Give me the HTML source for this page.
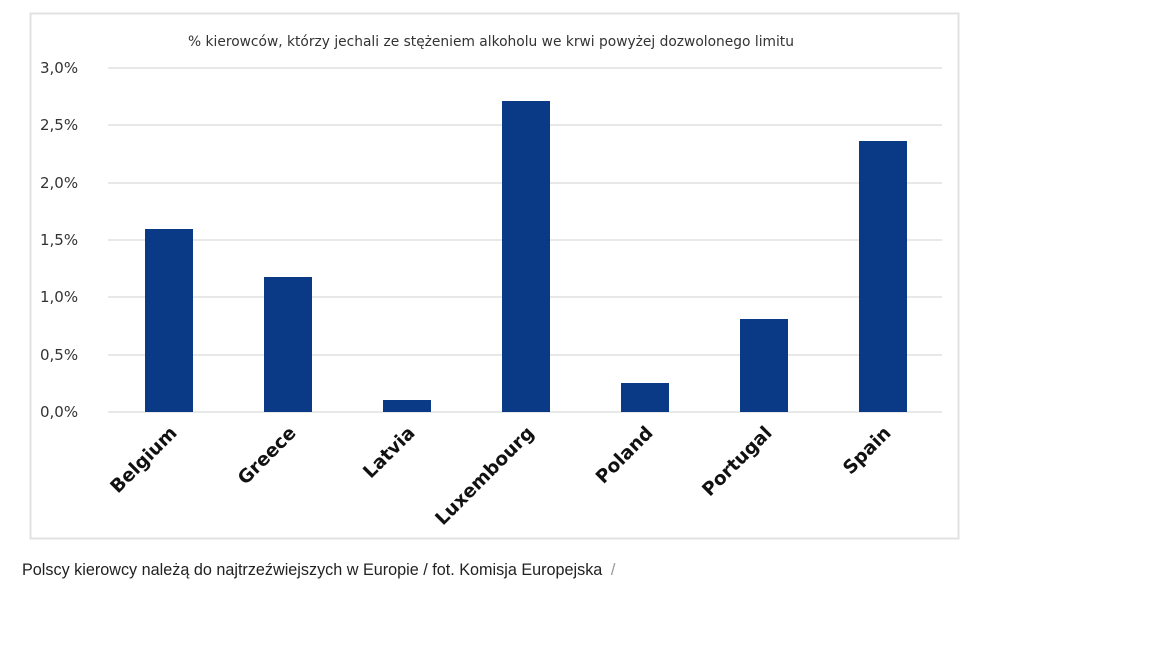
<!DOCTYPE html>
<html><head><meta charset="utf-8"><style>
body{margin:0;background:#fff;width:1152px;height:648px;overflow:hidden;font-family:"Liberation Sans",sans-serif}
</style></head><body>
<svg width="1152" height="648" xmlns="http://www.w3.org/2000/svg" style="position:absolute;left:0;top:0">
<rect x="30.5" y="13.5" width="928" height="525" fill="#fff" stroke="#e2e2e2" stroke-width="2"/>
<text x="491" y="46" font-size="13.8" fill="#333" text-anchor="middle" font-family="DejaVu Sans, sans-serif">% kierowców, którzy jechali ze stężeniem alkoholu we krwi powyżej dozwolonego limitu</text>
<g stroke="#e0e0e0" stroke-width="1.5">
<line x1="108" x2="942" y1="68" y2="68"/><line x1="108" x2="942" y1="125" y2="125"/>
<line x1="108" x2="942" y1="183" y2="183"/><line x1="108" x2="942" y1="240" y2="240"/>
<line x1="108" x2="942" y1="297" y2="297"/><line x1="108" x2="942" y1="355" y2="355"/>
<line x1="108" x2="942" y1="412" y2="412"/>
</g>
<g font-size="15" fill="#333" font-family="DejaVu Sans, sans-serif">
<text x="40" y="73">3,0%</text><text x="40" y="130">2,5%</text><text x="40" y="188">2,0%</text>
<text x="40" y="245">1,5%</text><text x="40" y="302">1,0%</text><text x="40" y="360">0,5%</text>
<text x="40" y="417">0,0%</text>
</g>
<g fill="#0a3a85">
<rect x="145" y="229" width="48" height="183"/><rect x="264" y="277" width="48" height="135"/>
<rect x="383" y="400" width="48" height="12"/><rect x="502" y="101" width="48" height="311"/>
<rect x="621" y="383" width="48" height="29"/><rect x="740" y="319" width="48" height="93"/>
<rect x="859" y="141" width="48" height="271"/>
</g>
<g font-size="18.5" font-weight="bold" fill="#111" text-anchor="end" font-family="DejaVu Sans, sans-serif">
<text transform="translate(178,434) rotate(-45)">Belgium</text>
<text transform="translate(297,434) rotate(-45)">Greece</text>
<text transform="translate(416,434) rotate(-45)">Latvia</text>
<text transform="translate(535,434) rotate(-45)">Luxembourg</text>
<text transform="translate(654,434) rotate(-45)">Poland</text>
<text transform="translate(773,434) rotate(-45)">Portugal</text>
<text transform="translate(892,434) rotate(-45)">Spain</text>
</g>
<text x="22" y="575" font-size="16.2" fill="#222">Polscy kierowcy należą do najtrzeźwiejszych w Europie / fot. Komisja Europejska <tspan fill="#999" dx="4">/</tspan></text>
</svg>
</body></html>
